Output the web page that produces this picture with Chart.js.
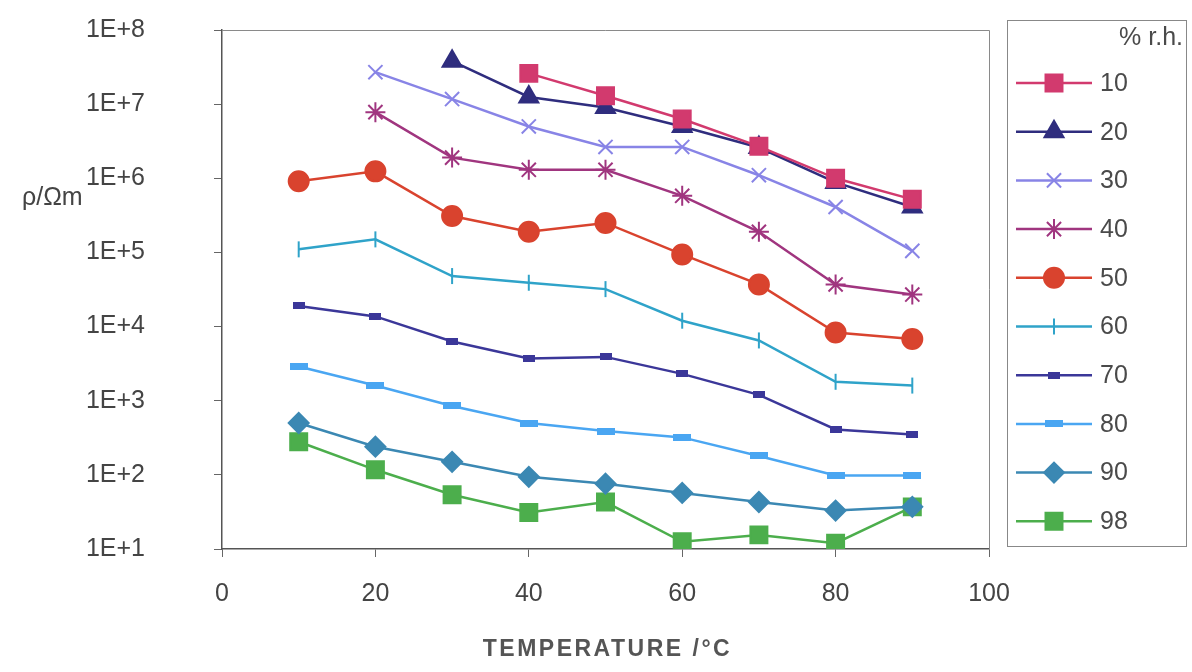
<!DOCTYPE html>
<html>
<head>
<meta charset="utf-8">
<script src="https://cdn.jsdelivr.net/npm/chart.js@4/dist/chart.umd.min.js"></script>
<style>
html, body { margin: 0; padding: 0; background: #fff; }
#wrap { width: 1192px; height: 672px; position: relative; }
</style>
</head>
<body>
<div id="wrap"><canvas id="rhoChart"></canvas></div>
<script>
// values (resistivity in ohm m, per % r.h.)
const temperatures = [10, 20, 30, 40, 50, 60, 70, 80, 90];
const rhLabels = ['10', '20', '30', '40', '50', '60', '70', '80', '90', '98'];
const rh10 = [null, null, null, 2.6e7, 1.3e7, 6.3e6, 2.7e6, 1.0e6, 5.2e5];
const rh20 = [null, null, 3.8e7, 1.25e7, 9.0e6, 5.0e6, 2.6e6, 8.8e5, 4.1e5];
const rh30 = [null, 2.7e7, 1.17e7, 5.0e6, 2.65e6, 2.65e6, 1.1e6, 4.1e5, 1.05e5];
const rh40 = [null, 7.8e6, 1.9e6, 1.3e6, 1.3e6, 5.8e5, 1.9e5, 3.7e4, 2.7e4];
const rh50 = [9.1e5, 1.24e6, 3.1e5, 1.9e5, 2.5e5, 9.4e4, 3.7e4, 8.3e3, 6.8e3];
const rh60 = [1.1e5, 1.5e5, 4.8e4, 3.9e4, 3.2e4, 1.2e4, 6.5e3, 1.8e3, 1.6e3];
const rh70 = [1.9e4, 1.37e4, 6.3e3, 3.7e3, 3.9e3, 2.3e3, 1.2e3, 4.1e2, 3.5e2];
const rh80 = [2.9e3, 1.6e3, 8.5e2, 5.0e2, 3.9e2, 3.2e2, 1.8e2, 98, 98];
const rh90 = [5.0e2, 2.4e2, 1.5e2, 94, 76, 57, 43, 33, 37];
const rh98 = [2.8e2, 1.17e2, 54, 31, 43, 12.5, 15.5, 12, 37];
const xTicks = [0, 20, 40, 60, 80, 100];
const yTicks = [1e1, 1e2, 1e3, 1e4, 1e5, 1e6, 1e7, 1e8];
const yTickLabels = ['1E+1', '1E+2', '1E+3', '1E+4', '1E+5', '1E+6', '1E+7', '1E+8'];

const FONT = '"Liberation Sans", Arial, sans-serif';

function barMarker(w, h, color) {
    const c = document.createElement('canvas');
    c.width = w;
    c.height = h;
    const g = c.getContext('2d');
    g.fillStyle = color;
    g.fillRect(0, 0, w, h);
    return c;
}

const seriesValues = [rh10, rh20, rh30, rh40, rh50, rh60, rh70, rh80, rh90, rh98];
const seriesStyle = [
    { color: '#d23a6e', pointStyle: 'rect', radius: 12 },
    { color: '#2f2d7e', pointStyle: 'triangle', radius: 11 },
    { color: '#8884e6', pointStyle: 'crossRot', radius: 10 },
    { color: '#a0357f', pointStyle: 'star', radius: 10 },
    { color: '#d9432e', pointStyle: 'circle', radius: 10 },
    { color: '#2fa3c9', pointStyle: 'line', radius: 8, rotation: 90 },
    { color: '#3b3799', pointStyle: barMarker(12, 7, '#3b3799'), radius: 6 },
    { color: '#4aa6f2', pointStyle: barMarker(18, 7, '#4aa6f2'), radius: 8 },
    { color: '#3b88b3', pointStyle: 'rectRot', radius: 10 },
    { color: '#4cae4c', pointStyle: 'rect', radius: 12 }
];

const datasets = seriesValues.map((vals, i) => ({
    label: rhLabels[i],
    data: temperatures.map((t, k) => ({ x: t, y: vals[k] })).filter(p => p.y !== null),
    borderColor: seriesStyle[i].color,
    backgroundColor: seriesStyle[i].color,
    borderWidth: 2.5,
    pointStyle: seriesStyle[i].pointStyle,
    pointRadius: seriesStyle[i].radius,
    pointRotation: seriesStyle[i].rotation || 0,
    pointBorderWidth: 2,
    pointHoverRadius: seriesStyle[i].radius,
    tension: 0
}));

// frame, legend box and the two axis titles
const extras = {
    id: 'extras',
    afterDraw(chart) {
        const ctx = chart.ctx;
        const a = chart.chartArea;
        ctx.save();
        ctx.strokeStyle = '#8a8a8a';
        ctx.lineWidth = 1;
        ctx.beginPath();
        ctx.moveTo(a.left, a.top + 0.5);
        ctx.lineTo(a.right + 0.5, a.top + 0.5);
        ctx.lineTo(a.right + 0.5, a.bottom);
        ctx.stroke();

        // y title
        ctx.fillStyle = '#444';
        ctx.font = '25px ' + FONT;
        ctx.textAlign = 'left';
        ctx.textBaseline = 'middle';
        ctx.fillText('\u03C1/\u03A9m', 22, 198);

        // x title
        ctx.fillStyle = '#555';
        ctx.font = 'bold 23px ' + FONT;
        ctx.textAlign = 'center';
        ctx.letterSpacing = '2.5px';
        ctx.fillText('TEMPERATURE /\u00B0C', (a.left + a.right) / 2 + 2, 650);
        ctx.letterSpacing = '0px';

        // legend
        ctx.strokeStyle = '#888';
        ctx.strokeRect(1007.5, 20.5, 179, 526);
        ctx.fillStyle = '#4a4a4a';
        ctx.font = '25px ' + FONT;
        ctx.textAlign = 'right';
        ctx.fillText('% r.h.', 1183, 38);
        ctx.textAlign = 'left';
        chart.data.datasets.forEach((ds, i) => {
            const y = 83 + i * 48.7;
            ctx.strokeStyle = ds.borderColor;
            ctx.fillStyle = ds.backgroundColor;
            ctx.lineWidth = 2.5;
            ctx.beginPath();
            ctx.moveTo(1016, y);
            ctx.lineTo(1092, y);
            ctx.stroke();
            ctx.lineWidth = 2;
            Chart.helpers.drawPoint(ctx, {
                pointStyle: ds.pointStyle,
                radius: ds.pointRadius,
                rotation: ds.pointRotation,
                borderWidth: 2
            }, 1054, y);
            ctx.fillStyle = '#4a4a4a';
            ctx.fillText(ds.label, 1100, y + 1);
        });
        ctx.restore();
    }
};

const ctx = document.getElementById('rhoChart').getContext('2d');
new Chart(ctx, {
    type: 'line',
    data: { datasets },
    options: {
        responsive: true,
        maintainAspectRatio: false,
        animation: false,
        layout: { padding: { top: 30, right: 203, left: 0, bottom: 0 } },
        plugins: {
            legend: { display: false },
            tooltip: { enabled: false }
        },
        scales: {
            x: {
                type: 'linear',
                min: 0,
                max: 100,
                afterBuildTicks: s => { s.ticks = xTicks.map(v => ({ value: v })); },
                afterFit: s => { s.height = 123; },
                grid: { drawOnChartArea: false, drawTicks: true, tickLength: 8, color: '#666' },
                border: { display: true, color: '#555', width: 1.5 },
                ticks: { color: '#444', padding: 22, font: { family: FONT, size: 25 } }
            },
            y: {
                type: 'logarithmic',
                min: 10,
                max: 1e8,
                afterBuildTicks: s => { s.ticks = yTicks.map(v => ({ value: v })); },
                afterFit: s => {
                    s.width = 222;
                    s.paddingTop = 0;
                    s.paddingBottom = 0;
                },
                grid: { drawOnChartArea: false, drawTicks: true, tickLength: 8, color: '#666' },
                border: { display: true, color: '#555', width: 1.5 },
                ticks: {
                    color: '#444',
                    padding: 69,
                    font: { family: FONT, size: 25 },
                    callback: v => yTickLabels[yTicks.indexOf(v)] ?? ''
                }
            }
        }
    },
    plugins: [extras]
});
</script>
</body>
</html>
